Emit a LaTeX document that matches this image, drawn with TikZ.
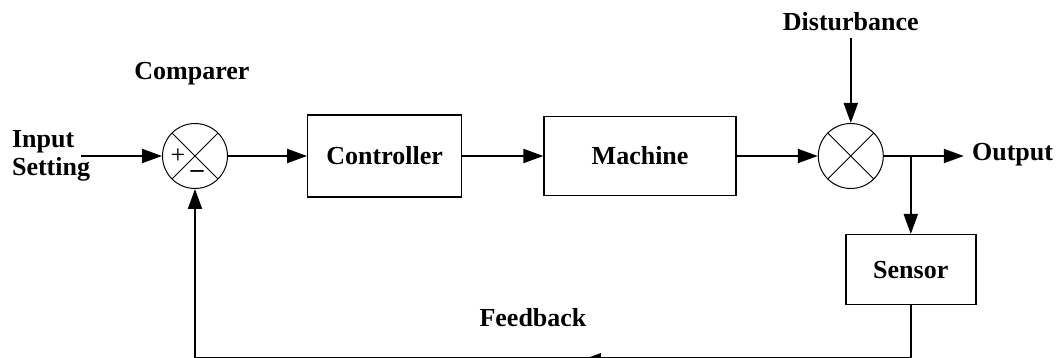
\documentclass[tikz,border=0pt]{standalone}
\usepackage{fontspec}
\setmainfont{Liberation Serif}
\usepackage{tikz}
\usetikzlibrary{arrows.meta, calc, positioning, decorations.markings}

\begin{document}
\begin{tikzpicture}[
    x=0.5pt, y=-0.5pt,
    lbl/.style={font=\fontsize{13}{14}\selectfont\bfseries, align=left},
    block/.style={rectangle, draw, line width=0.7pt, font=\fontsize{13}{14}\selectfont\bfseries},
    sumnode/.style={circle, draw, line width=0.5pt, minimum size=32.5pt, inner sep=0pt,
        path picture={
            \draw[line width=0.4pt] (path picture bounding box.north west) -- (path picture bounding box.south east);
            \draw[line width=0.4pt] (path picture bounding box.north east) -- (path picture bounding box.south west);
        }},
    sign/.style={inner sep=0pt, font=\fontsize{13}{14}\selectfont},
    arrow/.style={-{Triangle[length=10pt, width=7pt]}, line width=1pt},
    wire/.style={line width=1pt}
]
    \useasboundingbox (0,0) rectangle (1061,358);

    % comparer with its signs
    \node[sumnode] (cmp) at (195,156) {};
    \node[sign] (plus) at ([xshift=-8.5pt]cmp.center) {+};
    \node[sign, font=\fontsize{13}{14}\selectfont\bfseries] (minus) at ([xshift=1pt, yshift=-9pt]cmp.center) {--};
    \node[lbl] (cmplbl) at (192,74) {Comparer};

    % input
    \coordinate[left=40.5pt of cmp] (intail);
    \node[lbl, anchor=west] (insig) at (5,156) {Input\\Setting};

    % forward path
    \node[block, minimum width=77pt, minimum height=41pt, right=39.5pt of cmp] (ctrl) {Controller};
    \node[block, minimum width=96pt, minimum height=39.5pt, right=40.5pt of ctrl] (mach) {Machine};
    \node[sumnode, right=40.5pt of mach] (dsum) {};

    % disturbance
    \node[lbl, above=42.5pt of dsum] (distlbl) {Disturbance};

    % output and sensor branch
    \coordinate[right=40pt of dsum] (outtip);
    \node[lbl, anchor=west] (outlbl) at (965,155) {Output};
    \coordinate[right=13.5pt of dsum] (br);
    \node[block, minimum width=65pt, minimum height=35pt, below=39pt of br] (sensor) {Sensor};

    % feedback label
    \node[lbl] (fblbl) at (533,318) {Feedback};

    % arrows
    \draw[arrow] (intail) -- (cmp);
    \draw[arrow] (cmp) -- (ctrl);
    \draw[arrow] (ctrl) -- (mach);
    \draw[arrow] (mach) -- (dsum);
    \draw[arrow] (distlbl) -- (dsum);
    \draw[arrow] (dsum) -- (outtip);
    \draw[arrow] (br) -- (sensor.north);
    \draw[arrow, postaction={decorate}, decoration={markings,
        mark=at position 190.5pt with {\arrow{Triangle[harpoon, swap, length=7.5pt, width=5pt]}}}]
        (sensor.south) -- ++(0,53) -| (cmp.south);
\end{tikzpicture}
\end{document}
